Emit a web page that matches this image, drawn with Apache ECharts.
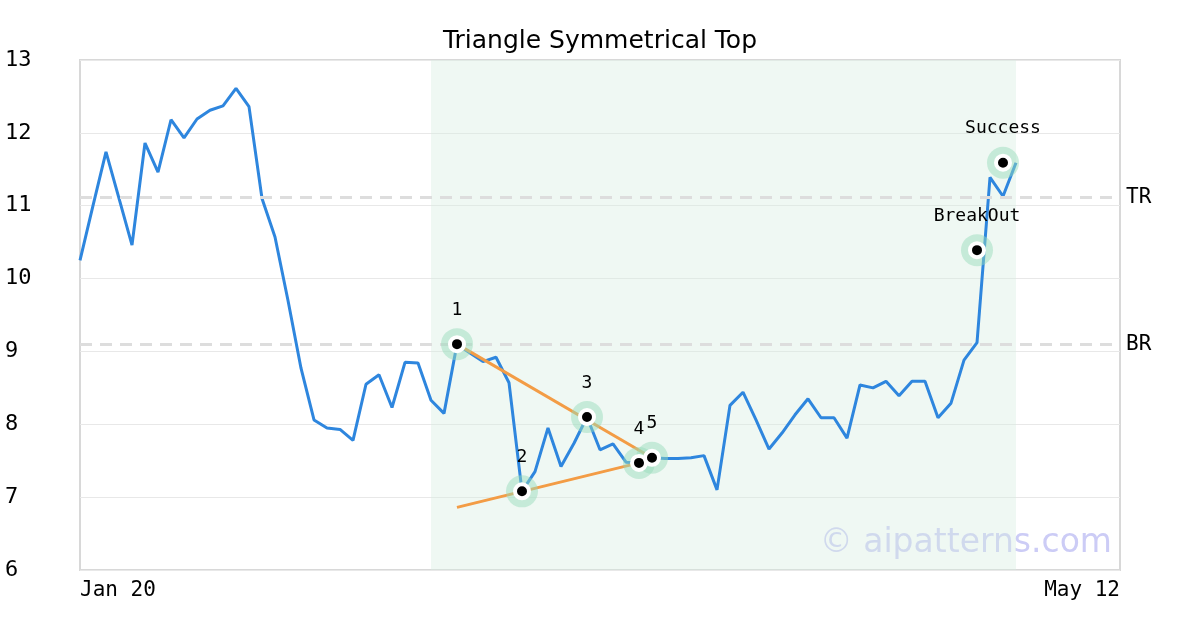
<!DOCTYPE html>
<html>
<head>
<meta charset="utf-8">
<script src="https://cdn.jsdelivr.net/npm/echarts@6/dist/echarts.min.js"></script>
<style>html,body{margin:0;padding:0;background:#fff}#chart{width:1200px;height:630px}</style>
</head>
<body>
<div id="chart"></div>
<script>
// 收盘价（每个交易日一个点）
var prices = [10.25, 11.0, 11.74, 11.1, 10.46, 11.86, 11.46, 12.18, 11.93, 12.19,
    12.31, 12.37, 12.61, 12.36, 11.1, 10.57, 9.7, 8.77, 8.06, 7.95,
    7.93, 7.78, 8.55, 8.68, 8.23, 8.85, 8.84, 8.33, 8.15, 9.10,
    8.98, 8.86, 8.92, 8.57, 7.08, 7.35, 7.95, 7.42, 7.74, 8.10,
    7.65, 7.73, 7.48, 7.47, 7.54, 7.53, 7.53, 7.54, 7.57, 7.10,
    8.26, 8.44, 8.06, 7.66, 7.88, 8.13, 8.35, 8.09, 8.09, 7.81,
    8.54, 8.50, 8.59, 8.39, 8.59, 8.59, 8.09, 8.29, 8.88, 9.12,
    11.39, 11.13, 11.59];
var xTickLabels = {0: 'Jan 20', 80: 'May 12'};
var pivotNames = ['1', '2', '3', '4', '5', 'BreakOut', 'Success'];
var pivotIdx = [29, 34, 39, 43, 44, 69, 71];
var pivotVals = [9.10, 7.08, 8.10, 7.47, 7.54, 10.39, 11.59];
var upperLine = [[29, 9.10], [44, 7.54]];
var lowerLine = [[29, 6.86], [43, 7.47]];
var levels = [{name: 'TR', value: 11.11}, {name: 'BR', value: 9.10}];
var patternRange = [27, 72];

var chart = echarts.init(document.getElementById('chart'));
var lineData = prices.map(function (v, i) { return [i, v]; });
var pivots = pivotIdx.map(function (x, i) {
    return {value: [x, pivotVals[i]], name: pivotNames[i]};
});
var mono = 'DejaVu Sans Mono';

var option = {
    animation: false,
    title: {
        text: 'Triangle Symmetrical Top', left: 'center', top: 24,
        textStyle: {fontFamily: 'DejaVu Sans', fontSize: 25, fontWeight: 'normal', color: '#000'}
    },
    graphic: [{
        type: 'text', right: 88, bottom: 70,
        style: {text: '© aipatterns.com', fontFamily: 'DejaVu Sans', fontSize: 33, fill: '#ccccf6'}
    }],
    grid: {left: 80, right: 80, top: 60, bottom: 60, show: true, borderColor: '#d8d8d8', borderWidth: 2},
    xAxis: {
        type: 'value', min: 0, max: 80, interval: 80,
        axisLine: {show: false}, axisTick: {show: false}, splitLine: {show: false},
        axisLabel: {
            fontFamily: mono, fontSize: 21, color: '#000', margin: 10,
            formatter: function (v) { return xTickLabels[v] || ''; },
            alignMinLabel: 'left', alignMaxLabel: 'right'
        }
    },
    yAxis: {
        type: 'value', min: 6, max: 13, interval: 1,
        axisLine: {show: false}, axisTick: {show: false},
        splitLine: {lineStyle: {color: '#e8e8e8', width: 1}},
        axisLabel: {fontFamily: mono, fontSize: 22, color: '#000', margin: 75, align: 'left'}
    },
    series: [
        {
            type: 'line', data: lineData, showSymbol: false, z: 3,
            lineStyle: {color: '#2e86de', width: 3},
            markArea: {
                silent: true,
                itemStyle: {color: 'rgba(214,238,226,0.4)'},
                data: [[{xAxis: patternRange[0]}, {xAxis: patternRange[1]}]]
            },
            markLine: {
                silent: true, symbol: 'none',
                lineStyle: {color: '#dddddd', type: [12, 8], width: 3},
                label: {position: 'end', formatter: '{b}', fontFamily: mono, fontSize: 21, color: '#000', distance: 6},
                data: levels.map(function (l) { return {name: l.name, yAxis: l.value}; })
            }
        },
        {type: 'line', data: upperLine, showSymbol: false, z: 4, lineStyle: {color: '#f39c45', width: 3}},
        {type: 'line', data: lowerLine, showSymbol: false, z: 4, lineStyle: {color: '#f39c45', width: 3}},
        {
            type: 'scatter', data: pivots, symbolSize: 32, z: 5,
            itemStyle: {color: 'rgba(150,220,185,0.6)'}
        },
        {
            type: 'scatter', data: pivots, symbolSize: 14, z: 6,
            itemStyle: {color: '#000', borderColor: '#fff', borderWidth: 4, opacity: 1},
            label: {
                show: true, position: 'top', distance: 16, formatter: '{b}',
                fontFamily: mono, fontSize: 18, color: '#000'
            }
        }
    ]
};
chart.setOption(option);
</script>
</body>
</html>
